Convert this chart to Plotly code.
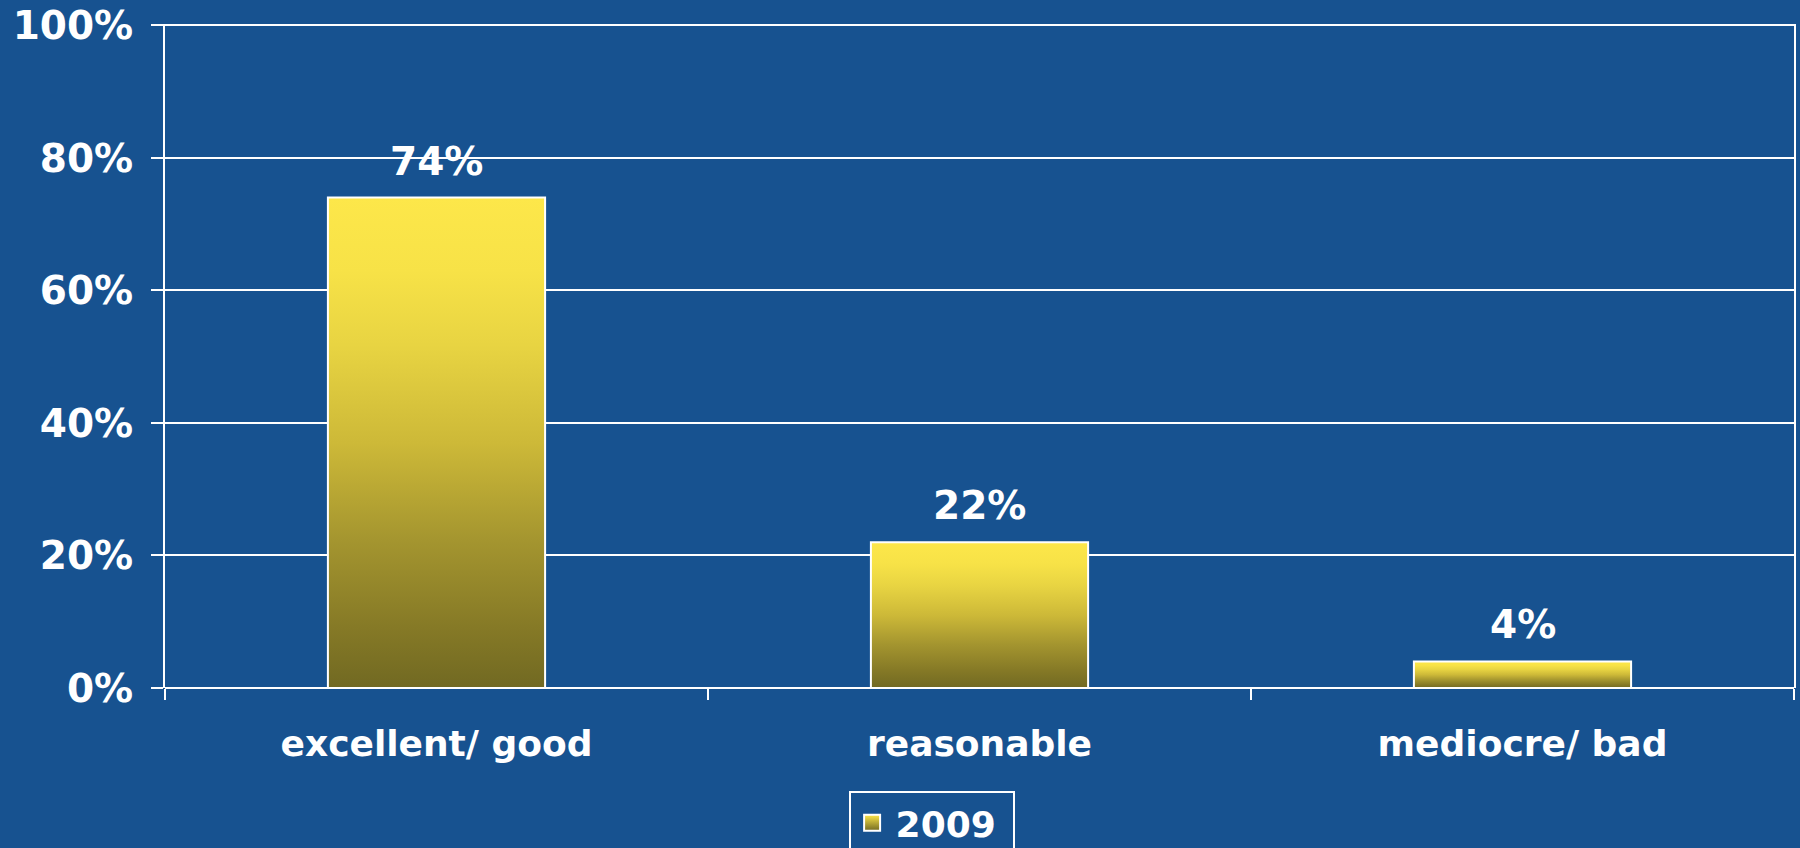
import plotly.graph_objects as go

categories = ["excellent/ good", "reasonable", "mediocre/ bad"]
values_2009 = [74, 22, 4]
series_name = "2009"
y_tickvals = [0, 20, 40, 60, 80, 100]
y_ticktext = [f"{v}%" for v in y_tickvals]

BG = "#175290"
FONT = dict(family="DejaVu Sans", color="white", size=36, weight="bold")
BIG = dict(FONT, size=39)
BAR_W = 0.4
TOP, BOTTOM = "#fde74a", "#716922"
GRAD = [[0, BOTTOM], [0.12, "#857926"], [0.3, "#a4952f"], [0.5, "#cdb938"],
        [0.7, "#e8d442"], [0.85, "#f7e247"], [1, TOP]]

fig = go.Figure()
idx = list(range(len(categories)))
for i, v in zip(idx, values_2009):
    x0, x1 = i - BAR_W / 2, i + BAR_W / 2
    fig.add_trace(go.Scatter(
        x=[x0, x1, x1, x0, x0], y=[0, 0, v, v, 0],
        mode="lines", fill="toself",
        line=dict(color="white", width=2),
        fillgradient=dict(type="vertical", colorscale=GRAD),
        name=series_name, legendgroup="s", showlegend=False,
        hoverinfo="skip",
    ))

# legend-only entry with a gradient square swatch
fig.add_trace(go.Scatter(
    x=[None], y=[None], mode="markers", name=series_name, legendgroup="s",
    marker=dict(symbol="square", size=24, color=TOP,
                gradient=dict(type="vertical", color=BOTTOM),
                line=dict(color="white", width=2)),
))

for i, v in zip(idx, values_2009):
    fig.add_annotation(x=i, y=v, text=f"{v}%", showarrow=False,
                       yanchor="bottom", yshift=12, font=BIG)

fig.update_layout(
    width=1800, height=848,
    paper_bgcolor=BG, plot_bgcolor=BG,
    margin=dict(l=165, r=6, t=24, b=160, autoexpand=False),
    font=FONT,
    showlegend=True,
    legend=dict(x=0.4706, xanchor="center", y=-0.155, yanchor="top",
                orientation="h", bgcolor=BG, bordercolor="white", borderwidth=2,
                font=FONT, itemsizing="trace", itemwidth=37, entrywidth=112),
)
fig.update_xaxes(
    range=[-0.5, len(categories) - 0.5],
    tickmode="array", tickvals=idx, ticktext=categories, ticks="",
    showgrid=False, zeroline=False, showline=False,
    ticklabelstandoff=31,
    minor=dict(tickmode="linear", tick0=-0.5, dtick=1, ticks="outside",
               ticklen=11, tickwidth=2, tickcolor="white", showgrid=False),
)
fig.update_yaxes(
    range=[0, 100.2], tickmode="array", tickvals=y_tickvals, ticktext=y_ticktext,
    tickfont=BIG, ticklabelstandoff=10,
    showgrid=True, gridcolor="white", gridwidth=2,
    zeroline=True, zerolinecolor="white", zerolinewidth=2,
    showline=True, mirror=True, linecolor="white", linewidth=2,
    ticks="outside", ticklen=12, tickwidth=2, tickcolor="white",
)

fig.write_html(
    "out.html",
    config={"displayModeBar": False},
    post_script="document.body.style.margin='0';document.body.style.background='%s';" % BG,
)
